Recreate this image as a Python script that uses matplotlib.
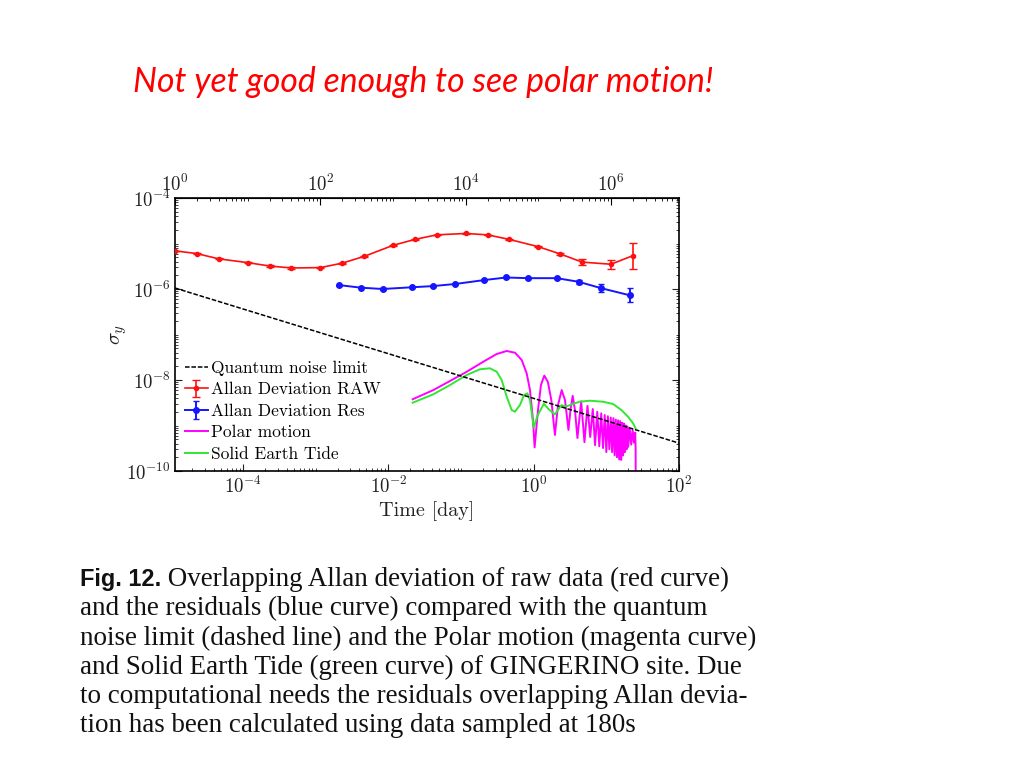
import numpy as np
import matplotlib
matplotlib.use("Agg")
import matplotlib.pyplot as plt
from matplotlib.ticker import FixedLocator, LogLocator, LogFormatterMathtext, NullFormatter

SEC_PER_DAY = 86400.0

# ---------------- data ----------------
raw_tau_s = [1, 2, 4, 10, 20, 40, 100, 200, 400, 1000, 2000, 4000,
             1e4, 2e4, 4e4, 1e5, 2e5, 4e5, 1e6, 2e6]
raw_sigma = [6.9e-6, 6.0e-6, 4.6e-6, 3.8e-6, 3.2e-6, 2.9e-6, 2.95e-6, 3.7e-6,
             5.2e-6, 9.1e-6, 1.23e-5, 1.55e-5, 1.66e-5, 1.55e-5, 1.23e-5,
             8.5e-6, 5.9e-6, 3.9e-6, 3.5e-6, 5.4e-6]
raw_err_lo = [0.1e-6] * 15 + [0.2e-6, 0.2e-6, 0.5e-6, 0.7e-6, 2.6e-6]
raw_err_hi = [0.1e-6] * 15 + [0.2e-6, 0.2e-6, 0.55e-6, 0.9e-6, 5.1e-6]

res_tau_s = [180, 360, 720, 1800, 3600, 7200, 18000, 36000, 72000,
             180000, 360000, 720000, 1800000]
res_sigma = [1.22e-6, 1.07e-6, 1.0e-6, 1.09e-6, 1.16e-6, 1.29e-6, 1.57e-6,
             1.79e-6, 1.73e-6, 1.73e-6, 1.44e-6, 1.05e-6, 7.3e-7]
res_err_lo = [0.03e-6] * 10 + [0.13e-6, 0.2e-6, 2.2e-7]
res_err_hi = [0.03e-6] * 10 + [0.13e-6, 0.24e-6, 3.2e-7]

qnl_tau_s = [1, 8.64e6]
qnl_sigma = [1.05e-6, 4.1e-10]

polar_days = [0.0216, 0.0415, 0.0705, 0.120, 0.2025, 0.310, 0.425, 0.553,
              0.684, 0.801, 0.890, 0.978, 1.03, 1.147, 1.26, 1.40, 1.57,
              1.75, 1.96, 2.16, 2.43, 2.70, 3.01, 3.21, 3.44, 3.70, 4.0,
              4.5, 5.0, 5.5, 6.0, 6.5, 7.0, 7.5, 8.0, 8.5, 9.0, 9.5, 10,
              10.5, 11, 11.5, 12, 12.5, 13, 13.5, 14, 14.5, 15, 15.5, 16,
              16.5, 17, 17.5, 18, 18.5, 19, 19.5, 20, 21, 22, 23, 24, 25,
              25.3, 25.4]
polar_sigma = [3.77e-9, 6.0e-9, 9.5e-9, 1.52e-8, 2.52e-8, 3.73e-8, 4.34e-8,
               3.98e-8, 2.75e-8, 1.40e-8, 6.0e-9, 1.32e-9, 3.3e-10, 2.2e-9,
               7.8e-9, 1.25e-8, 9.0e-9, 3.6e-9, 6.2e-10, 2.8e-9, 6.0e-9,
               3.6e-9, 8.0e-10, 2.2e-9, 4.5e-9, 2.2e-9, 5.3e-10,
               3.4e-9, 4.3e-10, 2.7e-9, 5.6e-10, 2.3e-9, 3.7e-10, 2.0e-9,
               3.5e-10, 1.85e-9, 3.2e-10, 1.7e-9, 2.6e-10, 1.6e-9, 3.0e-10,
               1.5e-9, 2.6e-10, 1.45e-9, 2.2e-10, 1.35e-9, 2.0e-10, 1.3e-9,
               1.8e-10, 1.25e-9, 1.75e-10, 1.15e-9, 2.2e-10, 1.1e-9, 2.6e-10,
               1.0e-9, 3.0e-10, 9.5e-10, 3.4e-10, 8.5e-10, 3.8e-10, 8.0e-10,
               4.2e-10, 7.0e-10, 3.0e-10, 1e-11]

tide_days = [0.0216, 0.0415, 0.0705, 0.120, 0.1824, 0.250, 0.310, 0.3625,
             0.425, 0.498, 0.553, 0.648, 0.735, 0.821, 0.890, 1.0, 1.14,
             1.38, 1.6, 1.95, 2.4, 2.8, 3.3, 4.3, 5.9, 9.0, 12.4, 16.1,
             19.9, 23.3, 25.2]
tide_sigma = [3.17e-9, 4.85e-9, 7.76e-9, 1.29e-8, 1.72e-8, 1.81e-8, 1.52e-8,
              1.0e-8, 4.3e-9, 2.19e-9, 2.01e-9, 2.83e-9, 4.68e-9, 5.1e-9,
              3.63e-9, 9.0e-10, 1.7e-9, 3.0e-9, 2.3e-9, 1.75e-9, 2.8e-9,
              2.6e-9, 2.9e-9, 3.33e-9, 3.51e-9, 3.33e-9, 2.97e-9, 2.19e-9,
              1.56e-9, 1.12e-9, 8.7e-10]

x_major_ticks = [1e-4, 1e-2, 1e0, 1e2]
top_major_ticks = [1e0, 1e2, 1e4, 1e6]
y_major_ticks = [1e-10, 1e-8, 1e-6, 1e-4]

legend_labels = ["Quantum noise limit", "Allan Deviation RAW",
                 "Allan Deviation Res", "Polar motion", "Solid Earth Tide"]

title_text = "Not yet good enough to see polar motion!"
caption_bold = "Fig. 12."
caption_lines = [
    " Overlapping Allan deviation of raw data (red curve)",
    "and the residuals (blue curve) compared with the quantum",
    "noise limit (dashed line) and the Polar motion (magenta curve)",
    "and Solid Earth Tide (green curve) of GINGERINO site. Due",
    "to computational needs the residuals overlapping Allan devia-",
    "tion has been calculated using data sampled at 180s",
]

# ---------------- style ----------------
plt.rcParams["mathtext.fontset"] = "cm"
plt.rcParams["font.family"] = "serif"
plt.rcParams["font.serif"] = ["cmr10", "DejaVu Serif"]
plt.rcParams["axes.unicode_minus"] = False
plt.rcParams["axes.formatter.use_mathtext"] = True

W, H = 1024, 768
fig = plt.figure(figsize=(W / 100, H / 100), dpi=100)
ax = fig.add_axes([175 / W, 1 - 471 / H, 504 / W, 273 / H])
ax.set_xscale("log")
ax.set_yscale("log")

to_days = lambda s: np.asarray(s, dtype=float) / SEC_PER_DAY

h_pol, = ax.plot(polar_days, polar_sigma, color="#ff00ff", lw=1.4, zorder=2)
h_tide, = ax.plot(tide_days, tide_sigma, color="#33e633", lw=1.4, zorder=3)
h_qnl, = ax.plot(to_days(qnl_tau_s), qnl_sigma, color="black", lw=1.1,
                 linestyle=(0, (3, 1.2)), zorder=4)
h_raw = ax.errorbar(to_days(raw_tau_s), raw_sigma, yerr=[raw_err_lo, raw_err_hi],
                    color="#ff1010", marker="o", ms=3, lw=1.2, elinewidth=1.2,
                    capsize=3, zorder=5)
h_res = ax.errorbar(to_days(res_tau_s), res_sigma, yerr=[res_err_lo, res_err_hi],
                    color="#1515ff", marker="o", ms=4, lw=1.4, elinewidth=1.4,
                    capsize=2.5, zorder=5)

ax.set_xlim(1 / SEC_PER_DAY, 100)
ax.set_ylim(1e-10, 1e-4)

tick_fs = 13.5
ax.xaxis.set_major_locator(FixedLocator(x_major_ticks))
ax.xaxis.set_major_formatter(LogFormatterMathtext())
ax.xaxis.set_minor_locator(LogLocator(base=10, subs=np.arange(1, 10), numticks=100))
ax.xaxis.set_minor_formatter(NullFormatter())
ax.yaxis.set_major_locator(FixedLocator(y_major_ticks))
ax.yaxis.set_major_formatter(LogFormatterMathtext())
ax.yaxis.set_minor_locator(LogLocator(base=10, subs=np.arange(1, 10), numticks=100))
ax.yaxis.set_minor_formatter(NullFormatter())
ax.tick_params(which="both", direction="in", top=False, right=True,
               labelsize=tick_fs, color="#222222", labelcolor="#222222")
ax.tick_params(which="major", length=5, width=0.8)
ax.tick_params(which="minor", length=2.5, width=0.6)
ax.tick_params(axis="y", pad=3)
for sp in ax.spines.values():
    sp.set_linewidth(1.2)

sec = ax.secondary_xaxis("top", functions=(lambda d: d * SEC_PER_DAY,
                                           lambda s: s / SEC_PER_DAY))
sec.xaxis.set_major_locator(FixedLocator(top_major_ticks))
sec.xaxis.set_major_formatter(LogFormatterMathtext())
sec.xaxis.set_minor_locator(LogLocator(base=10, subs=np.arange(1, 10), numticks=100))
sec.xaxis.set_minor_formatter(NullFormatter())
sec.tick_params(which="both", direction="in", labelsize=tick_fs, pad=2,
                labelcolor="#222222")
sec.tick_params(which="major", length=5, width=0.8)
sec.tick_params(which="minor", length=2.5, width=0.6)

ax.set_xlabel("Time [day]", fontsize=14.5, labelpad=3, color="#222222")
ax.set_ylabel(r"$\sigma_y$", fontsize=15, labelpad=-2, color="#222222")

ax.legend([h_qnl, h_raw, h_res, h_pol, h_tide], legend_labels,
          loc="upper left", bbox_to_anchor=(0.02, 0.405), frameon=False,
          fontsize=12.5, handlelength=1.3, handletextpad=0.2,
          labelspacing=0.36, borderpad=0, borderaxespad=0)

# ---------------- slide texts ----------------
fig.canvas.draw()
renderer = fig.canvas.get_renderer()


def fit_size(text, family, target_px, style="normal", weight="normal", base=20):
    t = fig.text(0, 0, text, family=family, fontsize=base, style=style,
                 weight=weight)
    w = t.get_window_extent(renderer).width
    t.remove()
    return base * target_px / w


title_fs = fit_size(title_text, ["Lato", "DejaVu Sans"], 580, style="italic")
fig.text(133 / W, 1 - 92 / H, title_text, family=["Lato", "DejaVu Sans"],
         style="italic", fontsize=title_fs, color="#ff0000", va="baseline",
         ha="left")

serif = ["Liberation Serif", "DejaVu Serif"]
cap_fs = fit_size(caption_lines[1], serif, 628)
baselines = [586 + 29.3 * i for i in range(len(caption_lines))]
tb = fig.text(80 / W, 1 - baselines[0] / H, caption_bold,
              family=["Liberation Sans", "DejaVu Sans"], weight="bold",
              fontsize=cap_fs * 0.87, va="baseline", ha="left", color="#111111")
bb = tb.get_window_extent(renderer)
fig.text(bb.x1 / W, 1 - baselines[0] / H, caption_lines[0], family=serif,
         fontsize=cap_fs, va="baseline", ha="left", color="#111111")
for line, yb in zip(caption_lines[1:], baselines[1:]):
    fig.text(80 / W, 1 - yb / H, line, family=serif, fontsize=cap_fs,
             va="baseline", ha="left", color="#111111")

fig.savefig("out.png", dpi=100)
